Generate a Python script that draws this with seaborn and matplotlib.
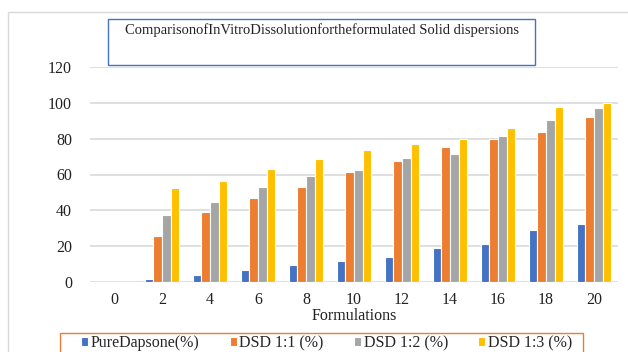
import pandas as pd
import seaborn as sns
import matplotlib.pyplot as plt
from matplotlib.patches import Rectangle

# formulations (x axis) and release values per series
formulations = [0, 2, 4, 6, 8, 10, 12, 14, 16, 18, 20]
pure_dapsone = [0, 1.9, 3.9, 6.9, 9.5, 11.7, 14.1, 19.2, 21.2, 28.8, 32.2]
dsd_1_1 = [0, 25.8, 39.3, 46.9, 53.1, 61.4, 67.5, 75.2, 80.0, 83.7, 92.1]
dsd_1_2 = [0, 37.3, 44.5, 53.1, 59.0, 62.5, 69.0, 71.4, 81.5, 90.2, 97.1]
dsd_1_3 = [0, 52.5, 56.4, 63.1, 68.6, 73.5, 77.0, 80.0, 86.0, 97.7, 99.7]

series_names = ["PureDapsone(%)", "DSD 1:1 (%)", "DSD 1:2 (%)", "DSD 1:3 (%)"]
colors = ["#4472C4", "#ED7D31", "#A5A5A5", "#FFC000"]

rows = []
for name, vals in zip(series_names, [pure_dapsone, dsd_1_1, dsd_1_2, dsd_1_3]):
    for f, v in zip(formulations, vals):
        rows.append({"Formulations": str(f), "value": v, "series": name})
df = pd.DataFrame(rows)

sns.set_style("white")
plt.rcParams['font.family'] = ['Liberation Serif', 'DejaVu Serif']

W, H = 628, 352
fig = plt.figure(figsize=(W / 100, H / 100), dpi=100)
ax = fig.add_axes([90 / W, 1 - 282 / H, 528 / W, 215 / H])

sns.barplot(data=df, x="Formulations", y="value", hue="series",
            order=[str(f) for f in formulations], hue_order=series_names,
            palette=colors, saturation=1, width=0.72, edgecolor="white",
            linewidth=0.8, ax=ax, legend=True)

ax.set_ylim(0, 120)
ax.set_yticks(range(0, 121, 20))
ax.yaxis.grid(True, color="#d9d9d9", linewidth=1.2)
ax.set_axisbelow(True)
for s in ax.spines.values():
    s.set_visible(False)
ax.tick_params(axis="both", length=0, labelsize=11.5, colors="#222222")
ax.tick_params(axis="y", pad=13)
ax.tick_params(axis="x", pad=7)
ax.set_ylabel("")
ax.set_xlabel("Formulations", fontsize=11.5, labelpad=0, color="#222222")

handles, labels = ax.get_legend_handles_labels()
ax.get_legend().remove()
leg = fig.legend(handles, labels, loc="upper left", ncol=4,
                 bbox_to_anchor=(81 / W, 1 - 335 / H), fontsize=11.5,
                 frameon=False,
                 handlelength=0.45, handleheight=0.45, handletextpad=0.15,
                 columnspacing=1.9, borderpad=0.0, borderaxespad=0)

# legend frame
fig.add_artist(Rectangle((60 / W, -0.1), 523 / W, 0.1 + 1 - 333 / H,
                         transform=fig.transFigure, fill=False,
                         edgecolor="#ED7D31", linewidth=1.0))
# outer chart border
fig.add_artist(Rectangle((8 / W, -0.1), 1.0, 1 - 12 / H + 0.1,
                         transform=fig.transFigure, fill=False,
                         edgecolor="#d9d9d9", linewidth=1.0))
# title box
fig.add_artist(Rectangle((108 / W, 1 - 65 / H), 427 / W, 46 / H,
                         transform=fig.transFigure, fill=False,
                         edgecolor="#4472C4", linewidth=1.0))
fig.text(322 / W, 1 - 30 / H,
         "ComparisonofInVitroDissolutionfortheformulated Solid dispersions",
         ha="center", va="center", fontsize=10.5, color="#222222")

fig.savefig("out.png", dpi=100)
